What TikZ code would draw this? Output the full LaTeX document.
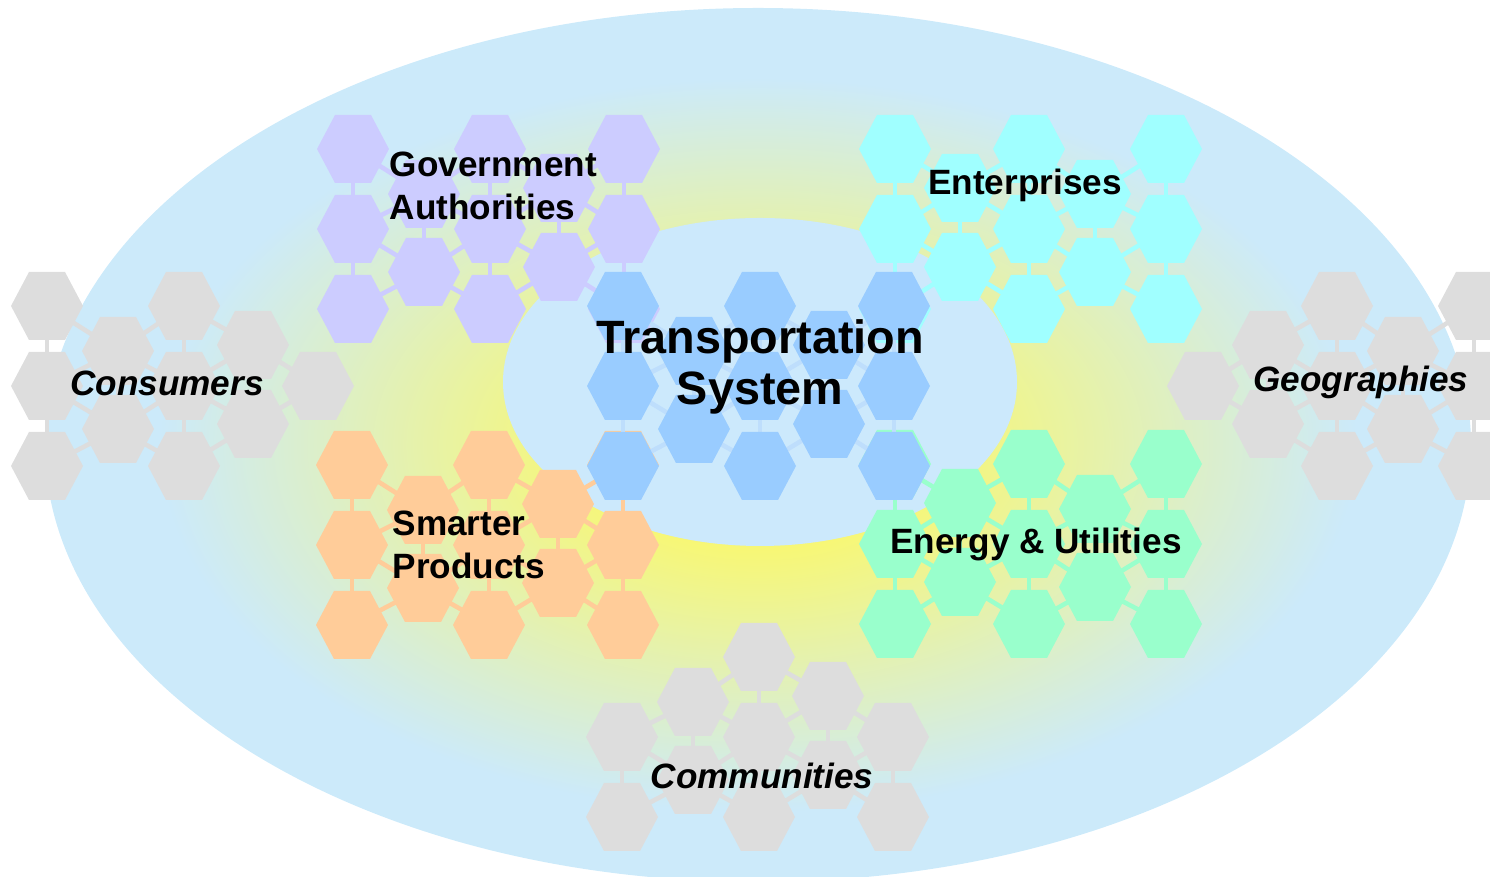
\documentclass[tikz,border=0pt]{standalone}
\usepackage{fontspec}
\setmainfont{Liberation Sans}
\usetikzlibrary{positioning}

\definecolor{skyfill}{RGB}{204,234,250}
\definecolor{innerfill}{RGB}{204,233,252}
\definecolor{glowfill}{RGB}{247,247,118}
\definecolor{govhex}{RGB}{204,204,255}
\definecolor{enthex}{RGB}{160,255,255}
\definecolor{transhex}{RGB}{153,204,255}
\definecolor{translink}{RGB}{190,222,252}
\definecolor{prodhex}{RGB}{255,204,153}
\definecolor{energyhex}{RGB}{153,255,204}
\definecolor{greyhex}{RGB}{221,221,221}

\pgfdeclareradialshading{ringglow}{\pgfpoint{0bp}{0bp}}{color(0bp)=(glowfill); color(6bp)=(glowfill); color(21bp)=(skyfill); color(25bp)=(skyfill); color(50bp)=(skyfill)}

% #1 name, #2 placement, #3 colour, #4 link colour, #5 hexagons shown
\newcommand{\hexgroup}[5]{%
  \begin{scope}[#2]
    \coordinate (#1-a1) at (0,0);
    \coordinate (#1-a2) at (0,80);
    \coordinate (#1-a3) at (0,160);
    \coordinate (#1-b1) at (71,45);
    \coordinate (#1-b2) at (71,123);
    \coordinate (#1-c1) at (137,0);
    \coordinate (#1-c2) at (137,80);
    \coordinate (#1-c3) at (137,160);
    \coordinate (#1-d1) at (206,39);
    \coordinate (#1-d2) at (206,118);
    \coordinate (#1-e1) at (271,0);
    \coordinate (#1-e2) at (271,80);
    \coordinate (#1-e3) at (271,160);
  \end{scope}
  \foreach \h in {#5} {\expandafter\gdef\csname on@#1@\h\endcsname{}}
  \foreach \p/\q in {a1/a2,a2/a3,a1/b1,a2/b1,a2/b2,a3/b2,b1/b2,b1/c1,b1/c2,b2/c2,b2/c3,c1/c2,c2/c3,c1/d1,c2/d1,c2/d2,c3/d2,d1/d2,d1/e1,d1/e2,d2/e2,d2/e3,e1/e2,e2/e3}
    {\ifcsname on@#1@\p\endcsname\ifcsname on@#1@\q\endcsname\draw[link=#4] (#1-\p) -- (#1-\q);\fi\fi}
  \foreach \h in {#5}
    \fill[#3] (#1-\h) +(-36,0) -- +(-18,-34) -- +(18,-34) -- +(36,0) -- +(18,34) -- +(-18,34) -- cycle;
}

\begin{document}
\begin{tikzpicture}[x=0.01cm, y=-0.01cm,
  link/.style={line width=1.3pt, draw=#1},
  lbl/.style={inner sep=0pt, align=left, font=\fontsize{10}{12}\selectfont\bfseries},
  slbl/.style={inner sep=0pt, font=\fontsize{10}{12}\selectfont\bfseries\itshape}]
  \useasboundingbox (0,0) rectangle (1490,877);
  \shade[shading=ringglow] (758,445) ellipse [x radius=713, y radius=437];
  \fill[innerfill] (760,382) ellipse [x radius=257, y radius=164];

  \hexgroup{con}{shift={(47,306)}}{greyhex}{greyhex}{a1,a2,a3,b1,b2,c1,c2,c3,d1,d2,e2}
  \hexgroup{geo}{shift={(1474,306)},xscale=-1}{greyhex}{greyhex}{a1,a2,a3,b1,b2,c1,c2,c3,d1,d2,e2}
  \hexgroup{com}{shift={(622,657)}}{greyhex}{greyhex}{a2,a3,b1,b2,c1,c2,c3,d1,d2,e2,e3}
  \hexgroup{gov}{shift={(353,149)}}{govhex}{govhex}{a1,a2,a3,b1,b2,c1,c2,c3,d1,d2,e1,e2,e3}
  \hexgroup{ent}{shift={(1166,149)},xscale=-1}{enthex}{enthex}{a1,a2,a3,b1,b2,c1,c2,c3,d1,d2,e1,e2,e3}
  \hexgroup{pro}{shift={(352,465)}}{prodhex}{prodhex}{a1,a2,a3,b1,b2,c1,c2,c3,d1,d2,e1,e2,e3}
  \hexgroup{ene}{shift={(1166,464)},xscale=-1}{energyhex}{energyhex}{a1,a2,a3,b1,b2,c1,c2,c3,d1,d2,e1,e2,e3}
  \hexgroup{tra}{shift={(623,306)}}{transhex}{translink}{a1,a2,a3,b1,b2,c1,c2,c3,d1,d2,e1,e2,e3}

  \node[lbl, anchor=west] (gov) at (389,186) {Government\\Authorities};
  \node[lbl] (ent) at (1025,185) {Enterprises};
  \node[lbl, align=center, font=\fontsize{13.3}{14.6}\selectfont\bfseries] (tra) at (760,367) {Transportation\\System};
  \node[lbl, anchor=west] (pro) at (392,545) {Smarter\\Products};
  \node[lbl] (ene) at (1036,544) {Energy \& Utilities};
  \node[slbl] (con) at (167,383) {Consumers};
  \node[slbl] (geo) at (1361,382) {Geographies};
  \node[slbl] (com) at (762,776) {Communities};
\end{tikzpicture}
\end{document}
